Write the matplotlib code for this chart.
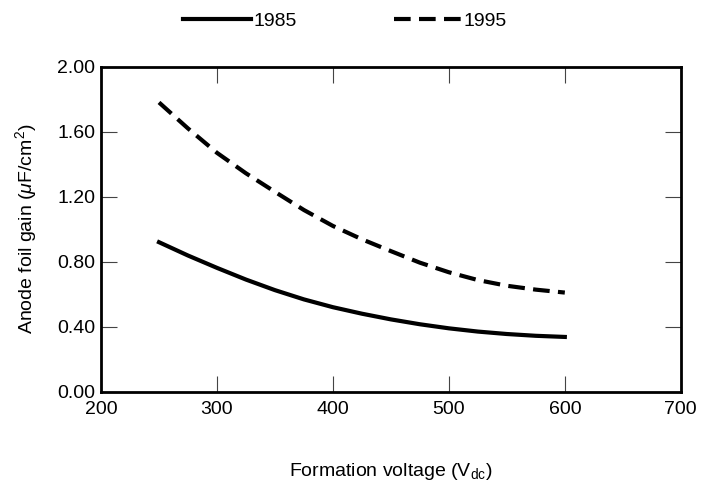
import matplotlib
matplotlib.use('Agg')
import matplotlib.pyplot as plt

# data (every 25 V)
voltage = [250, 275, 300, 325, 350, 375, 400, 425, 450, 475, 500, 525, 550, 575, 600]
gain_1985 = [0.92, 0.838, 0.762, 0.69, 0.625, 0.568, 0.52, 0.48, 0.445,
             0.415, 0.39, 0.37, 0.355, 0.344, 0.337]
gain_1995 = [1.78, 1.62, 1.47, 1.344, 1.23, 1.118, 1.02, 0.938, 0.865,
             0.794, 0.735, 0.687, 0.652, 0.628, 0.61]
xticks = [200, 300, 400, 500, 600, 700]
yticks = [0.0, 0.4, 0.8, 1.2, 1.6, 2.0]

plt.rcParams['font.family'] = ['Liberation Sans', 'DejaVu Sans']
plt.rcParams['mathtext.fontset'] = 'custom'
plt.rcParams['mathtext.rm'] = 'Liberation Sans'
plt.rcParams['mathtext.it'] = 'Liberation Sans:italic'

fs = 14
fig = plt.figure(figsize=(7.04, 4.84), dpi=100)
ax = fig.add_axes([0.1435, 0.1907, 0.8235, 0.6715])

ax.plot(voltage, gain_1985, color='black', lw=3, label='1985')
ax.plot(voltage, gain_1995, color='black', lw=3, dashes=(4, 2), label='1995')

ax.set_xlim(200, 700)
ax.set_ylim(0, 2.0)
ax.set_xticks(xticks)
ax.set_yticks(yticks)
ax.set_yticklabels(['%.2f' % v for v in yticks])
ax.tick_params(direction='in', length=11.5, width=0.8, color='#444444',
               top=True, right=True, labelsize=fs, pad=4)
ax.tick_params(axis='x', pad=7)
for s in ax.spines.values():
    s.set_linewidth(2)

ax.set_xlabel(r'Formation voltage (V$_{\rm dc}$)', fontsize=fs, labelpad=31)
ax.set_ylabel(r'Anode foil gain ($\mathit{\mu}$F/cm$^2$)', fontsize=fs, labelpad=13)

fig.legend(loc='upper center', bbox_to_anchor=(0.49, 1.01), ncol=2, frameon=False,
           fontsize=fs, handlelength=3.5, handletextpad=0.1, columnspacing=5)

fig.savefig('out.png', dpi=100)
